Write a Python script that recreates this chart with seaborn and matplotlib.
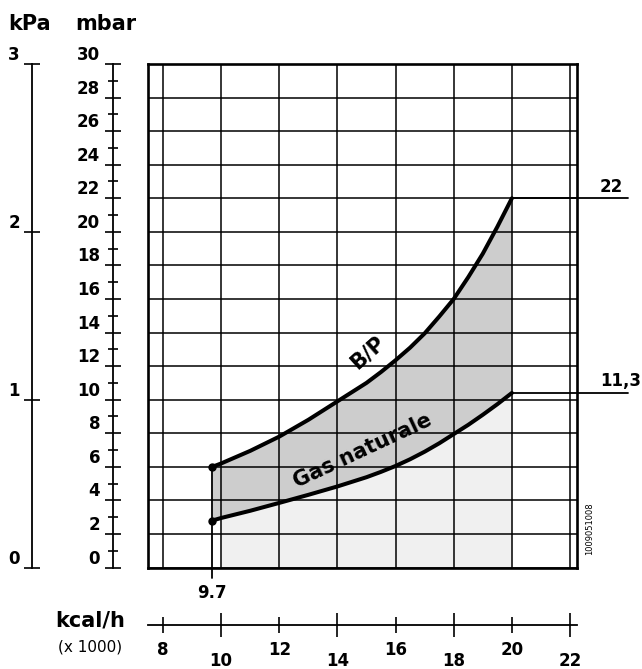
import numpy as np
import pandas as pd
import matplotlib
matplotlib.use("Agg")
import matplotlib.pyplot as plt
import seaborn as sns

# values (x = kcal/h x1000, y = mbar)
kcal = [9.7, 10, 11, 12, 13, 14, 15, 15.5, 16, 16.5, 17, 17.5, 18, 18.5, 19, 19.5, 20]
bp = [6.0, 6.2, 6.95, 7.8, 8.8, 9.9, 11.0, 11.65, 12.35, 13.1, 13.95, 14.95, 16.0, 17.3, 18.7, 20.3, 22.0]
gas = [2.8, 2.95, 3.38, 3.85, 4.33, 4.83, 5.38, 5.7, 6.05, 6.45, 6.9, 7.4, 7.95, 8.5, 9.1, 9.73, 10.4]

mbar_ticks = list(range(0, 31, 2))
mbar_minor = list(range(1, 30, 2))
kpa_ticks = [0, 1, 2, 3]
kcal_upper = [8, 12, 16, 20]
kcal_lower = [10, 14, 18, 22]
end_labels = ["22", "11,3"]

sns.set_style("white")
plt.rcParams["font.family"] = ["DejaVu Sans"]
plt.rcParams["font.weight"] = "bold"
plt.rcParams["text.color"] = "black"
plt.rcParams["xtick.color"] = "black"
plt.rcParams["ytick.color"] = "black"
plt.rcParams["lines.solid_joinstyle"] = "round"

df = pd.DataFrame({
    "kcal": kcal + kcal,
    "mbar": bp + gas,
    "gas": ["B/P"] * len(kcal) + ["Gas naturale"] * len(kcal),
})

W, H = 642, 669
fig = plt.figure(figsize=(W / 100, H / 100), dpi=100)


def fx(px):
    return px / W


def fy(py):
    return (H - py) / H


top, bot = 64, 567.5
left, right = 148, 577
xlim = (7.484, 22.24)

# main grid box
ax = fig.add_axes([fx(left), fy(bot), (right - left) / W, (bot - top) / H])
ax.set_xlim(*xlim)
ax.set_ylim(0, 30)
ax.set_xticks(kcal_upper + kcal_lower)
ax.set_yticks(mbar_ticks)
ax.tick_params(length=0, labelbottom=False, labelleft=False)
ax.set_axisbelow("line")
ax.grid(True, color="black", lw=1.1)
for s in ax.spines.values():
    s.set_color("black")
    s.set_linewidth(1.9)

k = np.array(kcal)
b = np.array(bp)
g = np.array(gas)
ax.fill_between(k, g, b, color="#cdcdcd", lw=0, zorder=1)
m = k >= 10
ax.fill_between(k[m], 0, g[m], color="#f0f0f0", lw=0, zorder=1)

sns.lineplot(data=df, x="kcal", y="mbar", hue="gas", palette=["black", "black"],
             lw=2.9, legend=False, ax=ax, zorder=3, estimator=None)
ax.set_xlabel("")
ax.set_ylabel("")
ax.plot([kcal[0]] * 2, [bp[0], gas[0]], "o", ms=5, color="black", zorder=4)
ax.plot([kcal[0]] * 2, [bp[0], -0.6], color="black", lw=1.3, clip_on=False, zorder=3)
ax.plot([kcal[-1], 24.0], [bp[-1]] * 2, color="black", lw=1.3, clip_on=False)
ax.plot([kcal[-1], 24.0], [gas[-1]] * 2, color="black", lw=1.3, clip_on=False)

ax.text(23.41, bp[-1] + 0.65, end_labels[0], fontsize=12, ha="center", va="center", clip_on=False)
ax.text(23.75, gas[-1] + 0.7, end_labels[1], fontsize=12, ha="center", va="center", clip_on=False)
ax.text(kcal[0], -1.52, "9.7", fontsize=12, ha="center", va="center", clip_on=False)
ax.text(15.05, 12.8, "B/P", fontsize=15, rotation=42, ha="center", va="center", zorder=5)
ax.text(14.85, 6.95, "Gas naturale", fontsize=15, rotation=25, ha="center", va="center",
        rotation_mode="anchor", zorder=5)
ax.text(22.69, 2.3, "1009051008", fontsize=6, fontweight="normal", rotation=90,
        ha="center", va="center", clip_on=False)

# mbar scale
axm = fig.add_axes([fx(113), fy(bot), 1e-4, (bot - top) / H])
axm.set_ylim(0, 30)
axm.set_yticks(mbar_ticks, labels=[str(v) for v in mbar_ticks])
axm.set_yticks(mbar_minor, minor=True)
axm.set_xticks([])
for name, s in axm.spines.items():
    s.set_visible(name == "left")
axm.spines["left"].set_linewidth(1.3)
axm.spines["left"].set_color("black")
axm.tick_params(axis="y", which="major", direction="inout", length=12, width=1.2,
                pad=3.3, labelsize=12, left=True)
axm.tick_params(axis="y", which="minor", direction="inout", length=7, width=1.2, left=True)
plt.setp(axm.get_yticklabels(), va="bottom")

# kPa scale
axk = fig.add_axes([fx(32), fy(bot), 1e-4, (bot - top) / H])
axk.set_ylim(0, 3)
axk.set_yticks(kpa_ticks, labels=[str(v) for v in kpa_ticks])
axk.set_xticks([])
for name, s in axk.spines.items():
    s.set_visible(name == "left")
axk.spines["left"].set_linewidth(1.3)
axk.spines["left"].set_color("black")
axk.tick_params(axis="y", which="major", direction="inout", length=11.5, width=1.2,
                pad=2.9, labelsize=12, left=True)
plt.setp(axk.get_yticklabels(), va="bottom")

# kcal/h scale
axb = fig.add_axes([fx(left), fy(625), (right - left) / W, 1e-4])
axb.set_xlim(*xlim)
axb.set_yticks([])
for name, s in axb.spines.items():
    s.set_visible(name == "bottom")
axb.spines["bottom"].set_linewidth(1.3)
axb.spines["bottom"].set_color("black")
axb.set_xticks(kcal_upper, labels=[str(v) for v in kcal_upper])
axb.set_xticks(kcal_lower, labels=[str(v) for v in kcal_lower], minor=True)
axb.tick_params(axis="x", which="major", direction="inout", length=11.5, width=1.2,
                pad=5.8, labelsize=12, bottom=True)
axb.tick_params(axis="x", which="minor", direction="inout", length=17, width=1.2,
                pad=10.8, labelsize=12, bottom=True)

fig.text(fx(30), fy(24), "kPa", fontsize=15, ha="center", va="center")
fig.text(fx(106), fy(24), "mbar", fontsize=15, ha="center", va="center")
fig.text(fx(90), fy(620), "kcal/h", fontsize=15, ha="center", va="center")
fig.text(fx(90), fy(647), "(x 1000)", fontsize=11, fontweight="normal", ha="center", va="center")

fig.savefig("out.png", dpi=100)
